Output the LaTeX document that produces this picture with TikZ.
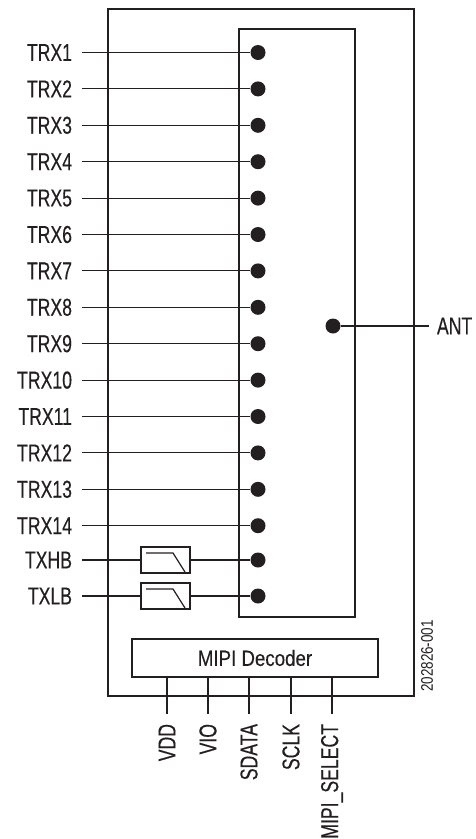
\documentclass[tikz,border=0pt]{standalone}
\usepackage{fontspec}
\setmainfont{Liberation Sans}[FakeStretch=0.72, FakeBold=0.3]
\newfontfamily\decfont{Liberation Sans}[FakeStretch=0.85, FakeBold=0.2]
\newfontfamily\codefont{Liberation Sans}[FakeStretch=0.8]
\usetikzlibrary{positioning,calc}
\definecolor{ink}{HTML}{231F20}
\tikzset{
        contact/.style = {circle, fill=ink, minimum size=15pt, inner sep=0pt},
        portlbl/.style = {anchor=east, inner sep=0pt, outer xsep=10pt, text=ink},
        filt/.style = {draw, rectangle, minimum width=49pt, minimum height=26pt, inner sep=0pt,
                path picture={\draw ([shift={(5,6)}]path picture bounding box.north west) -- ++(27,0) -- ++(12,19);}},
        decoder/.style = {draw, rectangle, minimum width=246pt, minimum height=38pt, text=ink,
                font=\decfont\fontsize{22}{26}\selectfont},
        wire/.style = {draw, line width=1.1pt}}

\begin{document}
\begin{tikzpicture}[x=1pt, y=-1pt, draw=ink, line width=1.2pt, font=\fontsize{24.5}{28}\selectfont]
            \useasboundingbox (0,0) rectangle (476,839);
            \draw[line width=2pt] (108,9) rectangle (414,696);
            \draw[line width=1.3pt] (239,29) rectangle (355,617);

            \foreach \i in {1,...,14} {
                \node [contact] (c\i) at (258,{52.5+36.4*(\i-1)}) {};
                \node [portlbl] (t\i) at (82,{52.5+36.4*(\i-1)}) {TRX\i};
            }
            \node [contact] (chb) at (258,560) {};
            \node [portlbl] (thb) at (82,560) {TXHB};
            \node [filt] (fhb) at (165.5,560) {};
            \node [contact] (clb) at (258,596) {};
            \node [portlbl] (tlb) at (82,596) {TXLB};
            \node [filt] (flb) at (165.5,596) {};

            \node [contact] (cant) at (333,326) {};
            \node [anchor=west, inner sep=0pt, outer xsep=8pt, text=ink] (ant) at (429,326) {ANT};

            \node [decoder] (dec) at (255,658) {MIPI Decoder};
            \foreach \x/\n [count=\k] in {167/VDD, 208/VIO, 249/SDATA, 291/SCLK, 332/MIPI\_SELECT}
                \node [portlbl, rotate=90] (b\k) at (\x,714) {\n};

            \node [rotate=90, inner sep=0pt, text=ink, font=\codefont\fontsize{16.8}{19}\selectfont] (code) at (427,656) {202826-001};

            \begin{scope}[wire]
            \foreach \i in {1,...,14}
                \draw (t\i.east) -- (c\i);
            \draw (thb.east) -- (fhb) -- (chb);
            \draw (tlb.east) -- (flb) -- (clb);
            \draw (cant) -- (ant.west);
            \foreach \k in {1,...,5}
                \draw (dec.south -| b\k.east) -- (b\k.east);
            \end{scope}
    \end{tikzpicture}
\end{document}
